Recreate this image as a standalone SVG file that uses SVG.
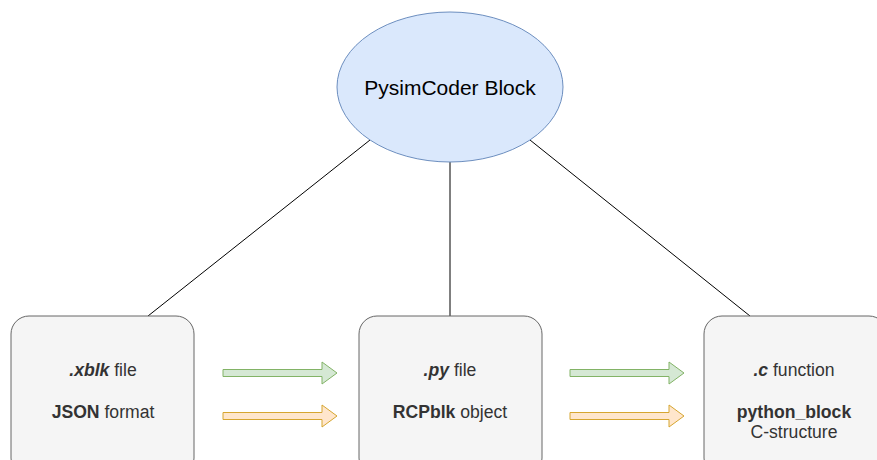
<svg xmlns="http://www.w3.org/2000/svg" width="877" height="460" viewBox="0 0 877 460">
<style>
.box{fill:#f5f5f5;stroke:#666666;stroke-width:1}
.t{font-family:"Liberation Sans",Arial,sans-serif;font-size:17.6px;fill:#333333;text-anchor:middle}
.b{font-weight:bold}
.bi{font-weight:bold;font-style:italic}
.green{fill:#d5e8d4;stroke:#82b366;stroke-width:1}
.orange{fill:#ffe6cc;stroke:#d6a630;stroke-width:1}
.conn{stroke:#000000;stroke-width:1;fill:none}
</style>
<rect width="877" height="460" fill="#ffffff"/>
<g id="connectors">
<line class="conn" x1="370" y1="140" x2="148" y2="316"/>
<line class="conn" x1="450" y1="162" x2="450" y2="316"/>
<line class="conn" x1="530" y1="140" x2="750" y2="316"/>
</g>
<g id="pysimcoder-block">
<ellipse cx="450" cy="87" rx="113" ry="75" fill="#dae8fc" stroke="#6c8ebf" stroke-width="1"/>
<text x="450" y="95" font-family="Liberation Sans,Arial,sans-serif" font-size="21" fill="#000000" text-anchor="middle">PysimCoder Block</text>
</g>
<g id="xblk">
<rect class="box" x="11" y="316" width="183" height="160" rx="18" ry="18"/>
<text class="t" x="103" y="376"><tspan class="bi">.xblk</tspan> file</text>
<text class="t" x="103" y="418"><tspan class="b">JSON</tspan> format</text>
</g>
<g id="py">
<rect class="box" x="359" y="316" width="183" height="160" rx="18" ry="18"/>
<text class="t" x="450" y="376"><tspan class="bi">.py</tspan> file</text>
<text class="t" x="450" y="418"><tspan class="b">RCPblk</tspan> object</text>
</g>
<g id="c">
<rect class="box" x="704" y="316" width="183" height="160" rx="18" ry="18"/>
<text class="t" x="794" y="376"><tspan class="bi">.c</tspan> function</text>
<text class="t b" x="794" y="418">python_block</text>
<text class="t" x="794" y="438">C-structure</text>
</g>
<g id="arrows">
<path class="green" d="M223,369.5 H322 V362 L337,373 L322,384 V376.5 H223 Z"/>
<path class="orange" d="M223,412.5 H322 V405 L337,416 L322,427 V419.5 H223 Z"/>
<path class="green" d="M570,369.5 H669 V362 L684,373 L669,384 V376.5 H570 Z"/>
<path class="orange" d="M570,412.5 H669 V405 L684,416 L669,427 V419.5 H570 Z"/>
</g>
</svg>
